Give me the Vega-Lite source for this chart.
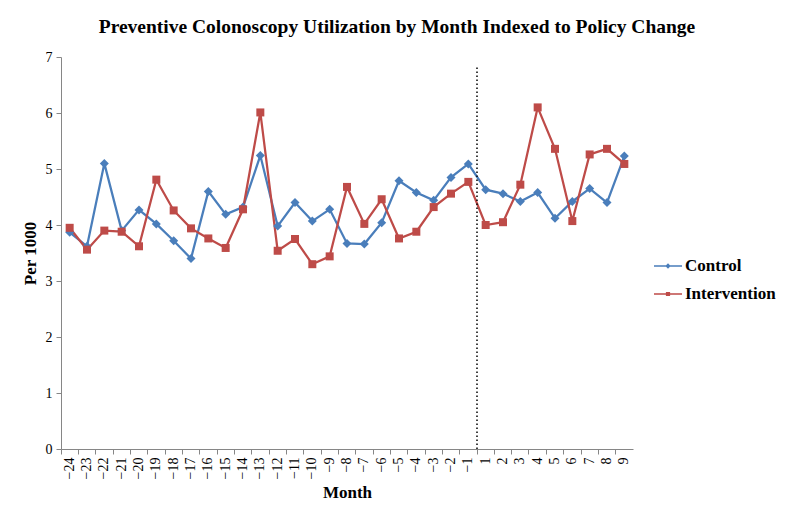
{
  "$schema": "https://vega.github.io/schema/vega-lite/v6.json",
  "width": 572,
  "height": 392,
  "autosize": {"type": "none"},
  "padding": {"left": 61, "top": 57, "right": 161, "bottom": 74},
  "background": "white",
  "title": {
    "text": "Preventive Colonoscopy Utilization by Month Indexed to Policy Change",
    "font": "Liberation Serif",
    "fontSize": 19.5,
    "fontWeight": "bold",
    "color": "black",
    "anchor": "middle",
    "frame": "group",
    "offset": 13,
    "dx": 50
  },
  "config": {
    "view": {"stroke": null},
    "axis": {
      "labelFont": "Liberation Serif",
      "labelFontSize": 14,
      "labelColor": "black",
      "titleFont": "Liberation Serif",
      "titleFontSize": 17,
      "titleFontWeight": "bold",
      "titleColor": "black",
      "domainColor": "#868686",
      "tickColor": "#868686",
      "grid": false,
      "tickSize": 5
    },
    "legend": {
      "labelFont": "Liberation Serif",
      "labelFontSize": 17,
      "labelFontWeight": "bold",
      "labelColor": "black"
    }
  },
  "datasets": {
    "d": [
      {"month": "−24", "series": "Control", "value": 3.87},
      {"month": "−23", "series": "Control", "value": 3.62},
      {"month": "−22", "series": "Control", "value": 5.1},
      {"month": "−21", "series": "Control", "value": 3.9},
      {"month": "−20", "series": "Control", "value": 4.27},
      {"month": "−19", "series": "Control", "value": 4.02},
      {"month": "−18", "series": "Control", "value": 3.72},
      {"month": "−17", "series": "Control", "value": 3.4},
      {"month": "−16", "series": "Control", "value": 4.6},
      {"month": "−15", "series": "Control", "value": 4.19},
      {"month": "−14", "series": "Control", "value": 4.32},
      {"month": "−13", "series": "Control", "value": 5.24},
      {"month": "−12", "series": "Control", "value": 3.98},
      {"month": "−11", "series": "Control", "value": 4.4},
      {"month": "−10", "series": "Control", "value": 4.07},
      {"month": "−9", "series": "Control", "value": 4.28},
      {"month": "−8", "series": "Control", "value": 3.67},
      {"month": "−7", "series": "Control", "value": 3.66},
      {"month": "−6", "series": "Control", "value": 4.04},
      {"month": "−5", "series": "Control", "value": 4.79},
      {"month": "−4", "series": "Control", "value": 4.58},
      {"month": "−3", "series": "Control", "value": 4.44},
      {"month": "−2", "series": "Control", "value": 4.85},
      {"month": "−1", "series": "Control", "value": 5.09},
      {"month": "1", "series": "Control", "value": 4.63},
      {"month": "2", "series": "Control", "value": 4.56},
      {"month": "3", "series": "Control", "value": 4.42},
      {"month": "4", "series": "Control", "value": 4.58},
      {"month": "5", "series": "Control", "value": 4.12},
      {"month": "6", "series": "Control", "value": 4.42},
      {"month": "7", "series": "Control", "value": 4.65},
      {"month": "8", "series": "Control", "value": 4.4},
      {"month": "9", "series": "Control", "value": 5.23},
      {"month": "−24", "series": "Intervention", "value": 3.95},
      {"month": "−23", "series": "Intervention", "value": 3.56},
      {"month": "−22", "series": "Intervention", "value": 3.9},
      {"month": "−21", "series": "Intervention", "value": 3.88},
      {"month": "−20", "series": "Intervention", "value": 3.62},
      {"month": "−19", "series": "Intervention", "value": 4.81},
      {"month": "−18", "series": "Intervention", "value": 4.26},
      {"month": "−17", "series": "Intervention", "value": 3.94},
      {"month": "−16", "series": "Intervention", "value": 3.76},
      {"month": "−15", "series": "Intervention", "value": 3.59},
      {"month": "−14", "series": "Intervention", "value": 4.28},
      {"month": "−13", "series": "Intervention", "value": 6.01},
      {"month": "−12", "series": "Intervention", "value": 3.54},
      {"month": "−11", "series": "Intervention", "value": 3.75},
      {"month": "−10", "series": "Intervention", "value": 3.3},
      {"month": "−9", "series": "Intervention", "value": 3.44},
      {"month": "−8", "series": "Intervention", "value": 4.68},
      {"month": "−7", "series": "Intervention", "value": 4.02},
      {"month": "−6", "series": "Intervention", "value": 4.46},
      {"month": "−5", "series": "Intervention", "value": 3.76},
      {"month": "−4", "series": "Intervention", "value": 3.88},
      {"month": "−3", "series": "Intervention", "value": 4.32},
      {"month": "−2", "series": "Intervention", "value": 4.56},
      {"month": "−1", "series": "Intervention", "value": 4.77},
      {"month": "1", "series": "Intervention", "value": 4.0},
      {"month": "2", "series": "Intervention", "value": 4.05},
      {"month": "3", "series": "Intervention", "value": 4.72},
      {"month": "4", "series": "Intervention", "value": 6.1},
      {"month": "5", "series": "Intervention", "value": 5.36},
      {"month": "6", "series": "Intervention", "value": 4.07},
      {"month": "7", "series": "Intervention", "value": 5.26},
      {"month": "8", "series": "Intervention", "value": 5.36},
      {"month": "9", "series": "Intervention", "value": 5.09}
    ],
    "marker": [{"month": "1", "lo": 0, "hi": 6.85}]
  },
  "layer": [
    {
      "data": {"name": "d"},
      "mark": {"type": "line", "strokeWidth": 2.25},
      "encoding": {
        "x": {
          "field": "month",
          "type": "ordinal",
          "title": "Month",
          "scale": {
            "type": "band",
            "paddingInner": 0,
            "paddingOuter": 0,
            "domain": ["−24","−23","−22","−21","−20","−19","−18","−17","−16","−15","−14","−13","−12","−11","−10","−9","−8","−7","−6","−5","−4","−3","−2","−1","1","2","3","4","5","6","7","8","9"]
          },
          "axis": {"labelAngle": -90, "bandPosition": 0, "labelPadding": 3, "titlePadding": 6}
        },
        "y": {
          "field": "value",
          "type": "quantitative",
          "title": "Per 1000",
          "scale": {"domain": [0, 7], "nice": false},
          "axis": {"values": [0, 1, 2, 3, 4, 5, 6, 7], "format": "d", "labelPadding": 4, "titlePadding": 6}
        },
        "color": {
          "field": "series",
          "type": "nominal",
          "scale": {"domain": ["Control", "Intervention"], "range": ["#4A7EBB", "#BE4B48"]},
          "legend": {
            "title": null,
            "orient": "none",
            "legendX": 593,
            "legendY": 195,
            "padding": 0,
            "rowPadding": 6,
            "symbolSize": 784,
            "symbolStrokeWidth": 0,
            "symbolOpacity": 1,
            "labelOffset": 3
          }
        },
        "shape": {
          "field": "series",
          "type": "nominal",
          "scale": {
            "domain": ["Control", "Intervention"],
            "range": [
              "M-1,-0.055H1V0.055H-1Z M0,-0.19L0.19,0L0,0.19L-0.19,0Z",
              "M-1,-0.055H1V0.055H-1Z M-0.15,-0.15H0.15V0.15H-0.15Z"
            ]
          },
          "legend": {
            "title": null,
            "orient": "none",
            "legendX": 593,
            "legendY": 195,
            "padding": 0,
            "rowPadding": 6,
            "symbolSize": 784,
            "symbolStrokeWidth": 0,
            "symbolOpacity": 1,
            "labelOffset": 3
          }
        }
      }
    },
    {
      "data": {"name": "d"},
      "transform": [{"filter": "datum.series === 'Control'"}],
      "mark": {"type": "point", "shape": "diamond", "filled": true, "size": 81, "opacity": 1},
      "encoding": {
        "x": {"field": "month", "type": "ordinal"},
        "y": {"field": "value", "type": "quantitative"},
        "color": {"field": "series", "type": "nominal", "legend": null}
      }
    },
    {
      "data": {"name": "d"},
      "transform": [{"filter": "datum.series === 'Intervention'"}],
      "mark": {"type": "point", "shape": "square", "filled": true, "size": 64, "opacity": 1},
      "encoding": {
        "x": {"field": "month", "type": "ordinal"},
        "y": {"field": "value", "type": "quantitative"},
        "color": {"field": "series", "type": "nominal", "legend": null}
      }
    },
    {
      "data": {"name": "marker"},
      "mark": {"type": "rule", "strokeDash": [1.5, 2.5], "strokeWidth": 1.5, "color": "black"},
      "encoding": {
        "x": {"field": "month", "type": "ordinal", "bandPosition": 0},
        "y": {"field": "lo", "type": "quantitative"},
        "y2": {"field": "hi"}
      }
    }
  ]
}
